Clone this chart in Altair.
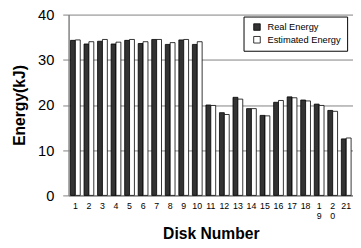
import altair as alt
import pandas as pd

disks = [str(i) for i in range(1, 22)]
series = ["Real Energy", "Estimated Energy"]
real = [34.3, 33.5, 34.1, 33.5, 34.3, 33.6, 34.5, 33.4, 34.4, 33.4,
        20.0, 18.3, 21.7, 19.2, 17.7, 20.6, 21.8, 21.1, 20.2, 18.8, 12.5]
est = [34.4, 34.0, 34.5, 33.9, 34.5, 34.0, 34.5, 33.8, 34.5, 34.0,
       19.9, 17.9, 21.3, 19.2, 17.6, 21.0, 21.6, 20.9, 19.9, 18.6, 12.7]
y_ticks = [0, 10, 20, 30, 40]

rows = []
for d, r, e in zip(disks, real, est):
    rows.append({"disk": d, "series": series[0], "energy": r})
    rows.append({"disk": d, "series": series[1], "energy": e})
df = pd.DataFrame(rows)

FONT = "Liberation Sans"

chart = alt.Chart(df).mark_bar(stroke="black", strokeWidth=0.8).encode(
    x=alt.X(
        "disk:N", sort=disks,
        scale=alt.Scale(paddingInner=0.28, paddingOuter=0.14),
        axis=alt.Axis(
            title="Disk Number", labelAngle=0, labelFontSize=9, ticks=False,
            labelPadding=6, domainColor="#808080", domainWidth=1.2,
            labelExpr="datum.value == '19' ? ['1','9'] : (datum.value == '20' ? ['2','0'] : datum.value)",
            titleFontSize=16, titleFontWeight="bold", titlePadding=5,
            grid=False, labelColor="black", titleColor="black",
        ),
    ),
    xOffset=alt.XOffset("series:N", sort=series),
    y=alt.Y(
        "energy:Q",
        scale=alt.Scale(domain=[0, 40], nice=False),
        axis=alt.Axis(
            values=y_ticks, title="Energy(kJ)", labelFontSize=15,
            labelPadding=9, tickSize=6, tickColor="#808080",
            domainColor="#808080", domainWidth=1.5,
            gridColor="#808080", gridWidth=1, grid=True,
            titleFontSize=16, titleFontWeight="bold", titlePadding=10,
            labelColor="black", titleColor="black",
        ),
    ),
    color=alt.Color(
        "series:N", sort=series,
        scale=alt.Scale(domain=series, range=["#333333", "#ffffff"]),
        legend=alt.Legend(
            title=None, orient="none", legendX=179, legendY=2,
            strokeColor="black", fillColor="white", padding=6,
            symbolType="square", symbolSize=45, symbolStrokeColor="black",
            symbolStrokeWidth=0.8, symbolOffset=3, labelFontSize=9.5,
            labelColor="black", rowPadding=2, labelOffset=6,
        ),
    ),
).properties(
    width=291, height=185,
    autosize=alt.AutoSizeParams(type="none"),
    padding={"left": 62, "top": 4, "right": 0, "bottom": 48},
).configure(font=FONT).configure_view(stroke=None)

chart.save("out.html", embed_options={"renderer": "svg", "actions": False})
